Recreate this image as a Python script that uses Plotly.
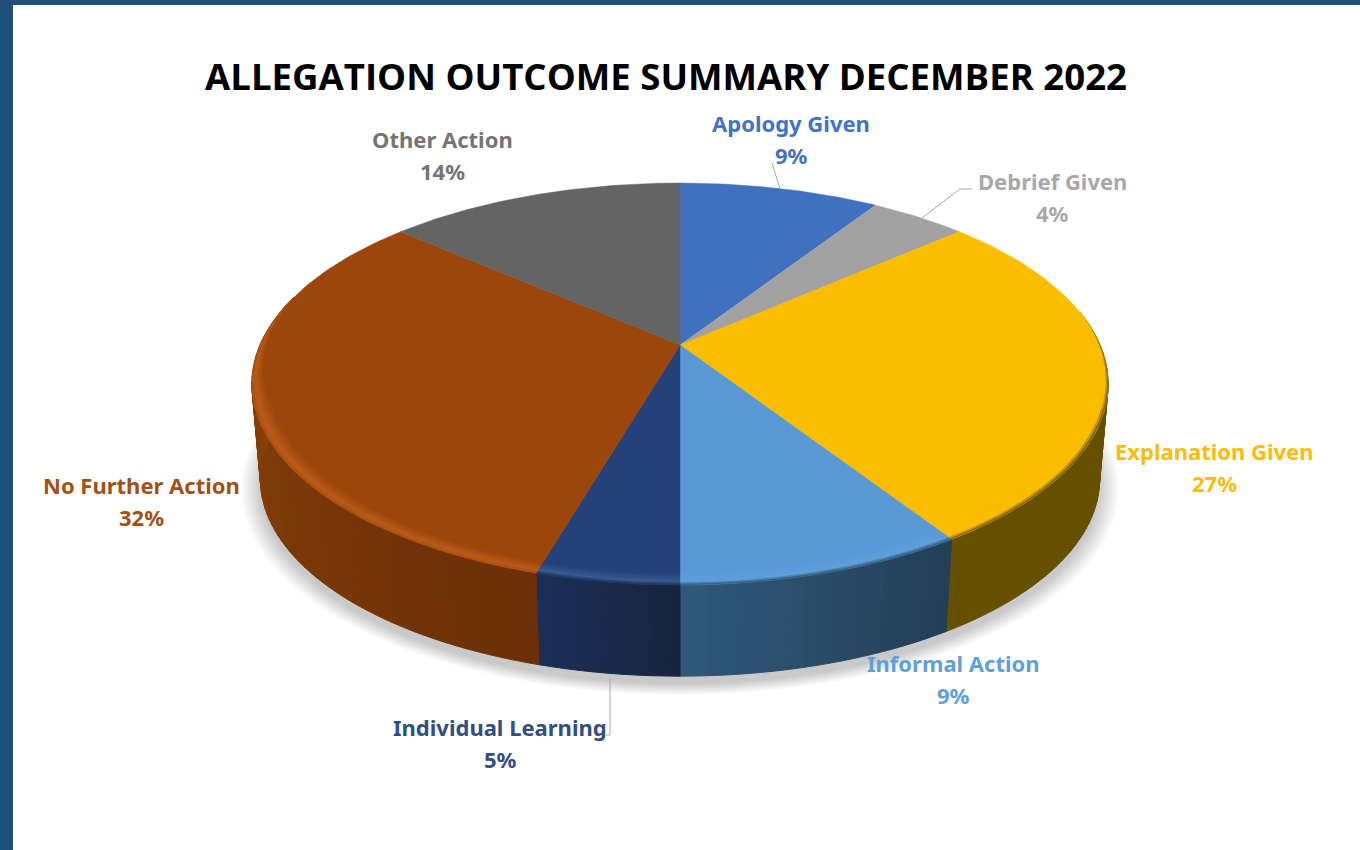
import numpy as np
import plotly.graph_objects as go

# shares behind the rounded labels
categories = ["Apology Given", "Debrief Given", "Explanation Given", "Informal Action",
              "Individual Learning", "No Further Action", "Other Action"]
shares = [9.1, 4.4, 27.4, 9.1, 4.5, 32.0, 13.5]
pct_labels = ["9%", "4%", "27%", "9%", "5%", "32%", "14%"]
title_text = "ALLEGATION OUTCOME SUMMARY DECEMBER 2022"

face_colors = ["#4070C0", "#A2A2A2", "#FBBD00", "#5A99D6", "#244279", "#9C460B", "#646464"]
rim_colors = ["#4070C0", "#A2A2A2", "#FBBD00", "#5FA0DC", "#3A5C95", "#BC5C1C", "#646464"]
rim_edge = ["#2A4A80", "#6A6A6A", "#655000", "#2C4E6C", "#1A2E56", "#A8500F", "#404040"]
side_from = ["#2A4A80", "#6A6A6A", "#655000", "#233E55", "#17253F", "#6C2F07", "#404040"]
side_to = ["#2A4A80", "#6A6A6A", "#655000", "#30587A", "#1A2E56", "#8C440A", "#404040"]
text_colors = ["#4472C4", "#A8A8A8", "#FBBC0A", "#5F9FDA", "#2F4F85", "#A34F16", "#757575"]

# label centres on the page, name line then percent line
label_x = [791, 1052, 1214, 953, 500, 141, 442]
label_y = [123, 181, 451, 663, 727, 485, 139]
line_gap = 32
leader_lines = [
    ([772, 780], [163, 189]),
    ([922, 960, 972], [218, 189, 189]),
    ([610, 610, 606], [678, 735, 735]),
]

# perspective of the disc, worked out from the rim of the reference
CX, CY = 680, 345
BASE_Y = 441
A, B, K = 420, 193.4, 0.194
BASE_SCALE = 0.98
VISIBLE = (80, 285)
BEVEL = 0.04


def project(theta, r=1.0, base=False):
    t = np.radians(theta)
    d = 1 + K * r * np.cos(t)
    s = BASE_SCALE if base else 1.0
    y0 = BASE_Y if base else CY
    return CX + s * A * r * np.sin(t) / d, y0 - s * B * r * np.cos(t) / d


def mix(c1, c2, f):
    a = [int(c1[i:i + 2], 16) for i in (1, 3, 5)]
    b = [int(c2[i:i + 2], 16) for i in (1, 3, 5)]
    return "rgb(%d,%d,%d)" % tuple(round(p + (q - p) * f) for p, q in zip(a, b))


def add_poly(fig, xs, ys, color, name=None, width=1.0):
    fig.add_trace(go.Scatter(x=list(xs), y=list(ys), mode="lines", fill="toself", fillcolor=color,
                             line=dict(color=color, width=width), hoverinfo="skip",
                             name=name, showlegend=False))


edges = np.concatenate([[0], np.cumsum(shares)]) / sum(shares) * 360

fig = go.Figure()

# soft shadow under the disc
th = np.linspace(0, 360, 181)
for i in range(18):
    sx, sy = project(th, base=True)
    grow = 1.0 + i * 0.0028
    add_poly(fig, CX + (sx - CX) * grow, BASE_Y + 8 + (sy - BASE_Y) * grow,
             "rgba(0,0,0,0.011)", width=0)

# side wall, strip by strip so the shading can change along the rim
for n in range(len(categories)):
    lo, hi = max(edges[n], VISIBLE[0]), min(edges[n + 1], VISIBLE[1])
    if lo >= hi:
        continue
    steps = max(1, int((hi - lo) / 1.5))
    cuts = np.linspace(lo, hi, steps + 1)
    for j in range(steps):
        arc = np.linspace(cuts[j], cuts[j + 1], 3)
        tx, ty = project(arc)
        bx, by = project(arc[::-1], base=True)
        add_poly(fig, np.r_[tx, bx, tx[0]], np.r_[ty, by, ty[0]],
                 mix(side_from[n], side_to[n], j / max(1, steps - 1)))

# top faces
for n, cat in enumerate(categories):
    arc = np.linspace(edges[n], edges[n + 1], 80)
    fx, fy = project(arc)
    add_poly(fig, np.r_[CX, fx, CX], np.r_[CY, fy, CY], face_colors[n], name=cat, width=0.5)


# rounded edge where the top meets the side
def inner_radius(arc, frac):
    taper = np.clip(np.minimum(arc - VISIBLE[0], VISIBLE[1] - arc) / 35, 0, 1)
    return 1 - BEVEL * frac * taper


bands = 8
for n in range(len(categories)):
    lo, hi = max(edges[n], VISIBLE[0]), min(edges[n + 1], VISIBLE[1])
    if lo >= hi:
        continue
    arc = np.linspace(lo, hi, 60)
    for b in range(bands):
        ox, oy = project(arc, inner_radius(arc, b / bands))
        ix, iy = project(arc[::-1], inner_radius(arc[::-1], (b + 1) / bands))
        f = (b + 0.5) / bands  # 0 at the outside of the rim
        if f < 0.3:
            color = mix(rim_edge[n], rim_colors[n], f / 0.3)
        else:
            color = mix(rim_colors[n], face_colors[n], (f - 0.3) / 0.7)
        add_poly(fig, np.r_[ox, ix, ox[0]], np.r_[oy, iy, oy[0]], color, width=0.3)

# leader lines
for lx, ly in leader_lines:
    fig.add_trace(go.Scatter(x=lx, y=ly, mode="lines", line=dict(color="#A6A6A6", width=1),
                             hoverinfo="skip", showlegend=False))

# data labels
LABEL_FONT = "Noto Sans"
for n, cat in enumerate(categories):
    fig.add_annotation(x=label_x[n], y=label_y[n], text="<b>%s</b>" % cat, showarrow=False,
                       xanchor="center", yanchor="middle",
                       font=dict(family=LABEL_FONT, size=22, color=text_colors[n]))
    fig.add_annotation(x=label_x[n], y=label_y[n] + line_gap, text="<b>%s</b>" % pct_labels[n],
                       showarrow=False, xanchor="center", yanchor="middle",
                       font=dict(family=LABEL_FONT, size=22, color=text_colors[n]))

fig.add_annotation(x=666, y=76, text="<b>%s</b>" % title_text, showarrow=False,
                   xanchor="center", yanchor="middle",
                   font=dict(family="Open Sans", size=36.6, color="#000000"))

fig.update_layout(
    width=1360, height=850, autosize=False,
    margin=dict(l=0, r=0, t=0, b=0),
    paper_bgcolor="white", plot_bgcolor="white",
    xaxis=dict(range=[0, 1360], visible=False, fixedrange=True),
    yaxis=dict(range=[850, 0], visible=False, fixedrange=True),
    shapes=[
        dict(type="rect", xref="x", yref="y", x0=0, x1=1360, y0=0, y1=5,
             fillcolor="#1F4E79", line_width=0, layer="above"),
        dict(type="rect", xref="x", yref="y", x0=0, x1=13, y0=0, y1=850,
             fillcolor="#1F4E79", line_width=0, layer="above"),
    ],
)

# the page body has a default margin, the frame has to sit on the window edge
fig.write_html("out.html", config=dict(displayModeBar=False),
               post_script="document.body.style.margin='0';document.body.style.overflow='hidden';")
